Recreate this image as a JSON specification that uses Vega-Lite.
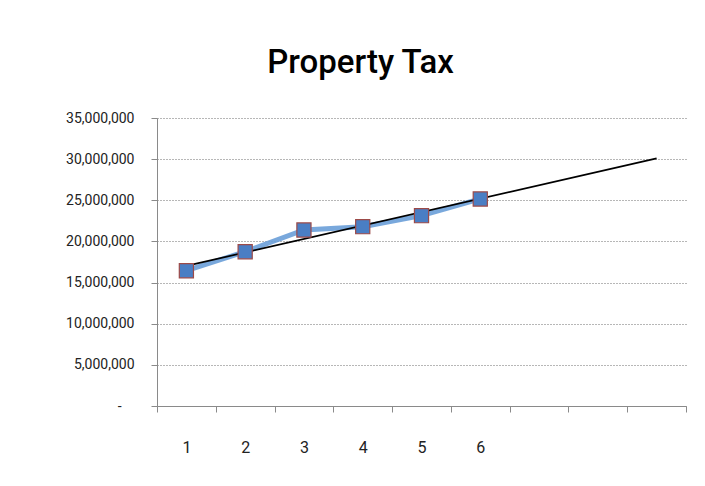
{
  "$schema": "https://vega.github.io/schema/vega-lite/v6.json",
  "autosize": "none",
  "width": 529,
  "height": 288,
  "padding": {"left": 157, "top": 118, "right": 19, "bottom": 80},
  "background": "white",
  "title": {
    "text": "Property Tax",
    "font": "Roboto",
    "fontSize": 33,
    "fontWeight": 500,
    "color": "#000000",
    "anchor": "middle",
    "frame": "group",
    "baseline": "alphabetic",
    "offset": 5,
    "dx": -61
  },
  "data": {
    "values": [
      {"period": 1, "tax": 16440000},
      {"period": 2, "tax": 18750000},
      {"period": 3, "tax": 21390000},
      {"period": 4, "tax": 21790000},
      {"period": 5, "tax": 23130000},
      {"period": 6, "tax": 25160000}
    ]
  },
  "config": {
    "view": {"stroke": null},
    "axis": {
      "labelFont": "Roboto",
      "labelFontSize": 14,
      "labelColor": "#222222",
      "domainColor": "#8a8a8a",
      "tickColor": "#8a8a8a",
      "tickSize": 6,
      "title": null
    }
  },
  "layer": [
    {
      "mark": {"type": "line", "color": "#6a9fd8", "strokeWidth": 5, "opacity": 0.9},
      "encoding": {
        "x": {
          "field": "period",
          "type": "quantitative",
          "scale": {"domain": [0.5, 9.5], "nice": false, "zero": false},
          "axis": {
            "values": [0.5, 1.5, 2.5, 3.5, 4.5, 5.5, 6.5, 7.5, 8.5, 9.5],
            "labelExpr": "datum.value < 6 ? format(datum.value + 0.5, 'd') : ''",
            "labelOffset": 29.4,
            "labelFlush": false,
            "labelOverlap": false,
            "labelFontSize": 16,
            "labelPadding": 27,
            "grid": false
          }
        },
        "y": {
          "field": "tax",
          "type": "quantitative",
          "scale": {"domain": [0, 35000000], "nice": false},
          "axis": {
            "values": [0, 5000000, 10000000, 15000000, 20000000, 25000000, 30000000, 35000000],
            "labelExpr": "datum.value == 0 ? '-' : format(datum.value, ',')",
            "labelPadding": {"condition": {"test": "datum.value == 0", "value": 30}, "value": 17},
            "grid": true,
            "gridColor": "#6f6f6f",
            "gridDash": [1, 2],
            "gridWidth": 1
          }
        }
      }
    },
    {
      "transform": [
        {"regression": "tax", "on": "period", "extent": [1, 9]}
      ],
      "mark": {"type": "line", "color": "#000000", "strokeWidth": 1.7},
      "encoding": {
        "x": {"field": "period", "type": "quantitative"},
        "y": {"field": "tax", "type": "quantitative"}
      }
    },
    {
      "mark": {
        "type": "point",
        "shape": "square",
        "size": 200,
        "filled": true,
        "fill": "#4a7ec4",
        "stroke": "#9c4a48",
        "strokeWidth": 1.2,
        "opacity": 1
      },
      "encoding": {
        "x": {"field": "period", "type": "quantitative"},
        "y": {"field": "tax", "type": "quantitative"}
      }
    }
  ]
}
